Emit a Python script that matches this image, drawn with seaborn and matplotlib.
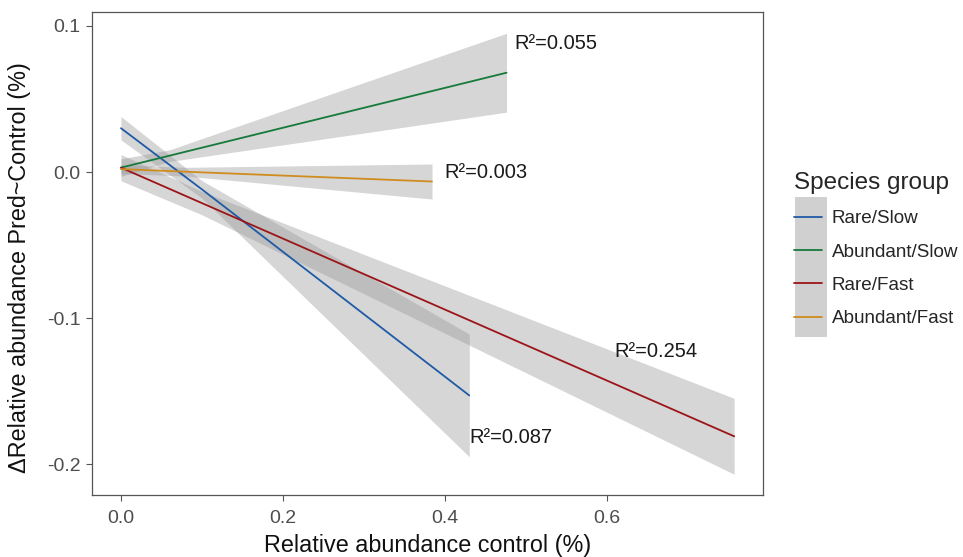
import matplotlib
matplotlib.use("Agg")
import matplotlib.pyplot as plt
from matplotlib.lines import Line2D
from matplotlib.patches import Rectangle
import numpy as np
import pandas as pd
import seaborn as sns

# Fitted regression lines per species group, with 95% CI half-widths
groups = ["Rare/Slow", "Abundant/Slow", "Rare/Fast", "Abundant/Fast"]
colors = ["#1f5aa6", "#157a3a", "#9b1418", "#d08c1e"]

rare_slow_x = [0.0, 0.10, 0.430]
rare_slow_y = [0.030, -0.0119, -0.153]
rare_slow_ci = [0.008, 0.006, 0.042]

abund_slow_x = [0.0, 0.06, 0.476]
abund_slow_y = [0.003, 0.0112, 0.068]
abund_slow_ci = [0.006, 0.004, 0.027]

rare_fast_x = [0.0, 0.10, 0.757]
rare_fast_y = [0.003, -0.0213, -0.181]
rare_fast_ci = [0.009, 0.008, 0.026]

abund_fast_x = [0.0, 0.08, 0.384]
abund_fast_y = [0.002, 0.0002, -0.0065]
abund_fast_ci = [0.003, 0.003, 0.012]

r2_labels = ["R\u00b2=0.087", "R\u00b2=0.055", "R\u00b2=0.254", "R\u00b2=0.003"]
r2_x = [0.430, 0.486, 0.609, 0.399]
r2_y = [-0.182, 0.088, -0.1226, 0.0]

xs = [rare_slow_x, abund_slow_x, rare_fast_x, abund_fast_x]
ys = [rare_slow_y, abund_slow_y, rare_fast_y, abund_fast_y]
cis = [rare_slow_ci, abund_slow_ci, rare_fast_ci, abund_fast_ci]

df = pd.concat(
    [pd.DataFrame({"x": x, "y": y, "group": g}) for x, y, g in zip(xs, ys, groups)],
    ignore_index=True,
)

sns.set_theme(style="white")
plt.rcParams["font.family"] = ["Liberation Sans", "DejaVu Sans"]

fig = plt.figure(figsize=(9.63, 5.57), dpi=100)
ax = fig.add_axes([0.0955, 0.1113, 0.6968, 0.8672])

# confidence bands
for x, y, ci in zip(xs, ys, cis):
    x = np.asarray(x)
    y = np.asarray(y)
    ci = np.asarray(ci)
    ax.fill_between(x, y - ci, y + ci, color="#999999", alpha=0.4, linewidth=0, zorder=1)

sns.lineplot(data=df, x="x", y="y", hue="group", hue_order=groups,
             palette=colors, linewidth=1.3, legend=False, ax=ax, zorder=3,
             estimator=None, sort=True)

for lab, tx, ty in zip(r2_labels, r2_x, r2_y):
    ax.text(tx, ty, lab, fontsize=14.5, color="#1a1a1a", ha="left", va="center")

ax.set_xlim(-0.0358, 0.7926)
ax.set_ylim(-0.2212, 0.1096)
ax.set_xticks([0.0, 0.2, 0.4, 0.6])
ax.set_xticklabels(["0.0", "0.2", "0.4", "0.6"])
ax.set_yticks([0.1, 0.0, -0.1, -0.2])
ax.set_yticklabels(["0.1", "0.0", "-0.1", "-0.2"])
ax.tick_params(axis="both", which="both", direction="out", length=4, width=0.8,
               color="#555555", labelcolor="#4d4d4d", labelsize=14, pad=4,
               bottom=True, left=True)
ax.tick_params(axis="x", pad=7)
for s in ax.spines.values():
    s.set_color("#555555")
    s.set_linewidth(0.9)

ax.set_xlabel("Relative abundance control (%)", fontsize=16.8, color="#111111", labelpad=5)
ax.set_ylabel("\u0394Relative abundance Pred~Control (%)", fontsize=16.8, color="#111111")
ax.yaxis.set_label_coords(-0.091, 0.47)

# legend with grey key background
fig.patches.append(Rectangle((795 / 963, 1 - 337 / 557), 32 / 963, 140 / 557,
                             transform=fig.transFigure, facecolor="#d0d0d0",
                             edgecolor="none", zorder=0))
handles = [Line2D([0], [0], color=c, linewidth=1.3) for c in colors]
leg = fig.legend(handles, groups, title="Species group", loc="upper left",
                 bbox_to_anchor=(794 / 963, 1 - 172 / 557), frameon=False,
                 fontsize=13.6, title_fontsize=17.5, handlelength=1.5,
                 handletextpad=0.5, labelspacing=0.85, borderaxespad=0,
                 borderpad=0)
leg._legend_box.align = "left"

fig.savefig("out.png", dpi=100)
